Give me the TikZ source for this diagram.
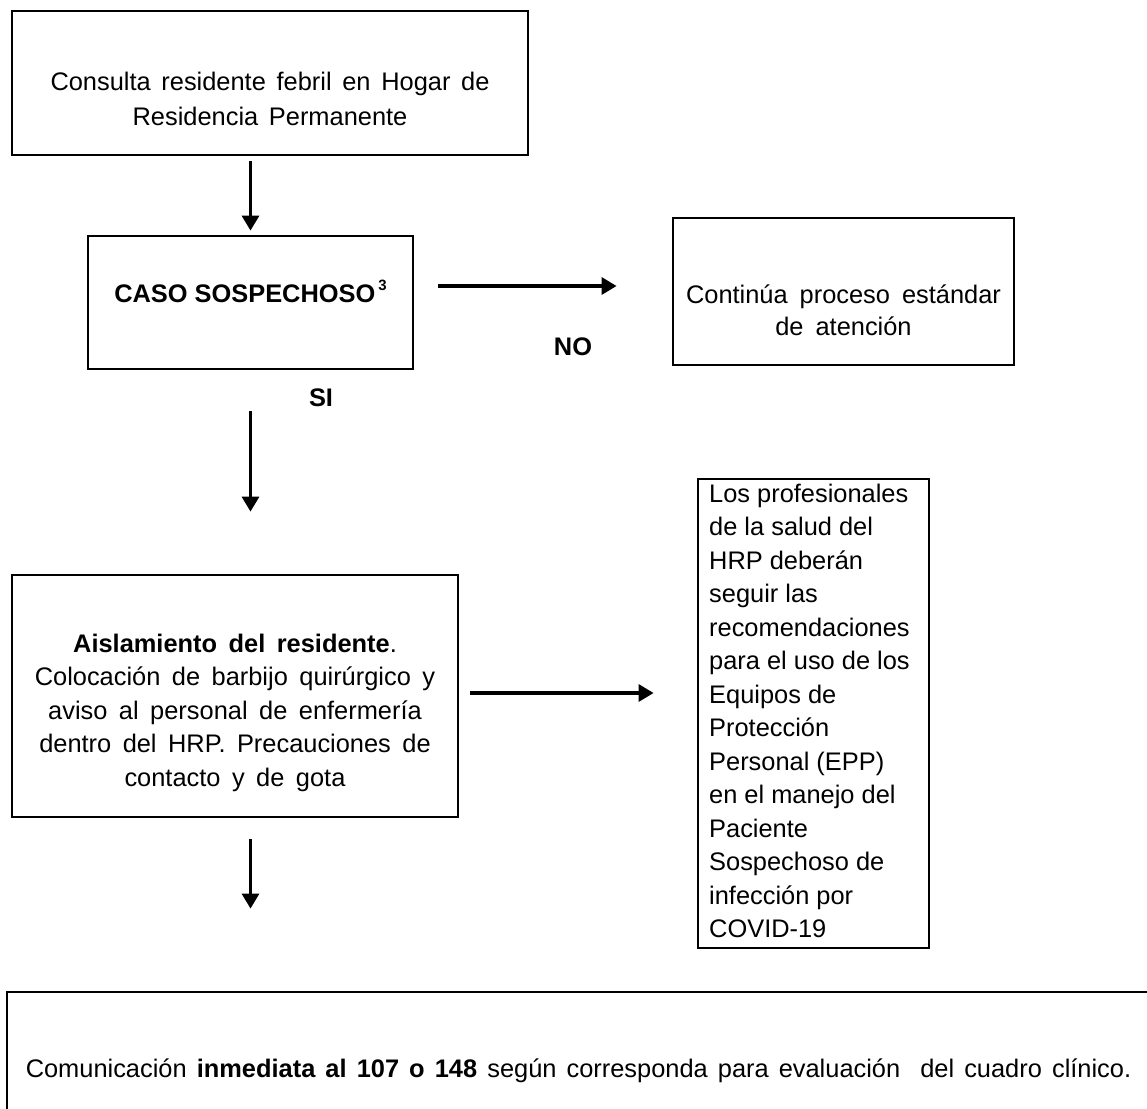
\documentclass[tikz,border=0pt]{standalone}
\usepackage{fontspec}
\setmainfont{Liberation Sans}
\usetikzlibrary{arrows.meta}
\begin{document}
\begin{tikzpicture}[x=1pt,y=-1pt,
  box/.style={draw, line width=2.8pt, rectangle, inner sep=0pt},
  txt/.style={inner sep=0pt, font=\fontsize{25.4}{33.5}\selectfont, align=center},
  wide/.style={execute at begin node={\spaceskip=#1 plus 1pt minus 1pt\relax}},
  arr/.style={line width=3.2pt, -{Triangle[width=17pt,length=15pt]}},
  lbl/.style={inner sep=0pt, font=\fontsize{25.4}{30}\selectfont\bfseries}]
\useasboundingbox (0,0) rectangle (1147,1108);
\clip (0,0) rectangle (1147,1108);
% boxes
\node[box, minimum width=516pt, minimum height=144pt] (top) at (270,83) {};
\node[box, minimum width=325pt, minimum height=133pt] (caso) at (250.5,302.5) {};
\node[box, minimum width=341pt, minimum height=147pt] (cont) at (843.5,291.5) {};
\node[box, minimum width=446pt, minimum height=242pt] (aisl) at (235,696) {};
\node[box, minimum width=231pt, minimum height=469pt] (tall) at (813.5,713.5) {};
\node[box, minimum width=1143pt, minimum height=152pt] (bot) at (578.5,1068) {};
% texts
\node[txt, wide=10.7pt, anchor=north, font=\fontsize{25.4}{35}\selectfont] (ttop) at (270,72)
  {Consulta residente febril en Hogar de\\Residencia Permanente};
\node[txt, anchor=base, font=\fontsize{25.4}{30}\selectfont\bfseries] (tcaso) at (250.5,302)
  {CASO SOSPECHOSO\hspace{3pt}\raisebox{12pt}{\fontsize{15}{15}\selectfont\bfseries 3}};
\node[txt, wide=12pt, anchor=north, font=\fontsize{25.4}{32}\selectfont] (tcont) at (843.5,285)
  {Continúa proceso estándar\\de atención};
\node[txt, wide=11.5pt, anchor=north] (taisl) at (235,633.5)
  {\textbf{Aislamiento del residente}.\\Colocación de barbijo quirúrgico y\\aviso al personal de enfermería\\dentro del HRP. Precauciones de\\contacto y de gota};
\node[txt, anchor=north west, align=left] (ttall) at (709,483.5)
  {Los profesionales\\de la salud del\\HRP deberán\\seguir las\\recomendaciones\\para el uso de los\\Equipos de\\Protección\\Personal (EPP)\\en el manejo del\\Paciente\\Sospechoso de\\infección por\\COVID-19};
\node[txt, wide=10.1pt, anchor=base] (tbot) at (578.5,1077)
  {Comunicación \textbf{inmediata al 107 o 148} según corresponda para evaluación\hspace{10pt} del cuadro clínico.};
% labels
\node[lbl] (si) at (321,398) {SI};
\node[lbl] (no) at (573,347) {NO};
% connectors
\coordinate (noy) at (0,286);
\coordinate (epy) at (0,693);
\draw[arr, shorten <=5pt, shorten >=4pt] (top.south -| caso.north) -- (caso.north);
\draw[arr, shorten <=24pt, shorten >=55pt] (caso.east |- noy) -- (cont.west |- noy);
\draw[arr, shorten <=41pt, shorten >=62pt] (caso.south) -- (caso.south |- aisl.north);
\draw[arr, shorten <=11pt, shorten >=43pt] (aisl.east |- epy) -- (tall.west |- epy);
\draw[arr, shorten <=21pt, shorten >=82pt] (aisl.south -| caso.south) -- (bot.north -| caso.south);
\end{tikzpicture}
\end{document}
